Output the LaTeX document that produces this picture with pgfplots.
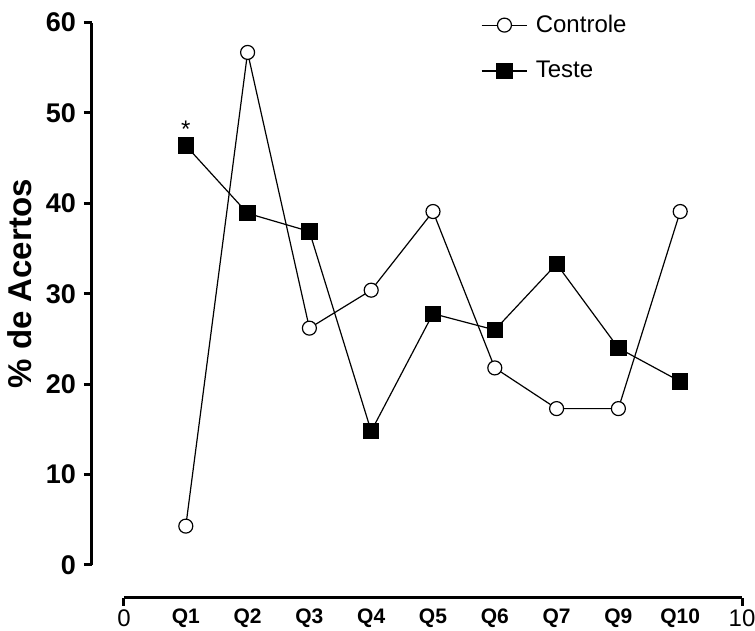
\documentclass[border=0pt]{standalone}
\usepackage{fontspec}
\setmainfont{Liberation Sans}
\usepackage{pgfplots}
\pgfplotsset{compat=1.18}

\begin{document}
\begin{tikzpicture}
\begin{axis}[
  at={(0,0)}, anchor=origin,
  x=30.9pt, y=4.52pt,
  xmin=-0.518, xmax=10,
  ymin=-3.65, ymax=60,
  clip=false,
  axis x line=bottom, axis y line=left,
  axis line style={-, line width=1.5pt},
  x axis line style={shorten <=16.0pt},
  y axis line style={shorten <=16.5pt},
  tick align=outside,
  major tick length=4pt,
  every tick/.style={black, line width=1.5pt},
  /pgf/number format/assume math mode=true,
  ytick={0,10,...,60},
  yticklabel style={font=\fontsize{13.5}{15}\selectfont\bfseries, xshift=-0.5pt},
  xtick={0,10},
  xticklabels={0,10},
  xticklabel style={font=\fontsize{12}{13}\selectfont, yshift=1.5pt},
  extra x ticks={1,2,3,4,5,6,7,8,9},
  extra x tick labels={\textbf{Q1},\textbf{Q2},\textbf{Q3},\textbf{Q4},\textbf{Q5},
    \textbf{Q6},\textbf{Q7},\textbf{Q9},\textbf{Q10}},
  extra x tick style={major tick length=0pt,
    xticklabel style={font=\fontsize{10.5}{12}\selectfont, yshift=-3.5pt}},
  ylabel={\% de Acertos},
  ylabel style={font=\fontsize{16.5}{19}\selectfont\bfseries, at={(ticklabel cs:0.546)}},
  legend style={draw=none, fill=none, at={(axis description cs:0.598,1.021)},
    anchor=north west, font=\fontsize{12}{14}\selectfont, row sep=9pt,
    inner sep=0pt, nodes={inner xsep=4pt}},
  legend cell align=left,
  legend image code/.code={%
    \draw[mark repeat=2, mark phase=2, #1]
      plot coordinates {(0cm,0cm) (0.4cm,0cm) (0.8cm,0cm)};},
]
% Controle: open circles
\addplot[black, line width=0.6pt, mark=*, mark size=3.5pt,
  mark options={fill=white, line width=0.6pt}]
  coordinates {(1,4.3) (2,56.7) (3,26.2) (4,30.4) (5,39.1)
               (6,21.8) (7,17.3) (8,17.3) (9,39.1)};
\addlegendentry{Controle}
% Teste: filled squares
\addplot[black, line width=0.6pt, mark=square*, mark size=3.75pt,
  mark options={fill=black}]
  coordinates {(1,46.4) (2,38.9) (3,36.9) (4,14.8) (5,27.8)
               (6,26.0) (7,33.3) (8,24.0) (9,20.3)};
\addlegendentry{Teste}
\node[font=\fontsize{12}{14}\selectfont] at (axis cs:1,46.4) [yshift=8pt] {*};
\end{axis}
\pgfresetboundingbox
\path[use as bounding box] (-62pt,-33pt) rectangle (315.5pt,282.5pt);
\end{tikzpicture}
\end{document}
